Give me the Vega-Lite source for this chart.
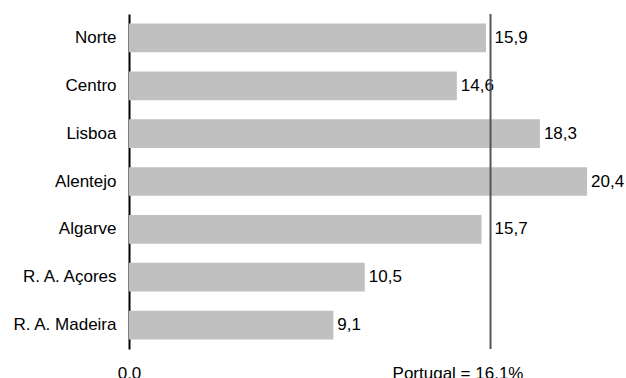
{
  "$schema": "https://vega.github.io/schema/vega-lite/v6.json",
  "width": 494,
  "height": 335,
  "autosize": {"type": "none"},
  "padding": {"left": 129, "top": 14, "right": 3, "bottom": 29},
  "background": "white",
  "config": {"view": {"stroke": null}, "font": "Liberation Sans"},
  "data": {
    "values": [
      {"regiao": "Norte", "valor": 15.9},
      {"regiao": "Centro", "valor": 14.6},
      {"regiao": "Lisboa", "valor": 18.3},
      {"regiao": "Alentejo", "valor": 20.4},
      {"regiao": "Algarve", "valor": 15.7},
      {"regiao": "R. A. Açores", "valor": 10.5},
      {"regiao": "R. A. Madeira", "valor": 9.1}
    ]
  },
  "layer": [
    {
      "mark": {"type": "bar", "color": "#c0c0c0"},
      "encoding": {
        "y": {
          "field": "regiao",
          "type": "nominal",
          "sort": null,
          "scale": {"paddingInner": 0.4, "paddingOuter": 0.2},
          "axis": {
            "title": null,
            "domain": true,
            "domainColor": "#000000",
            "domainWidth": 2,
            "ticks": false,
            "grid": false,
            "labelPadding": 13,
            "labelFontSize": 17,
            "labelColor": "#000000",
            "labelFont": "Liberation Sans"
          }
        },
        "x": {
          "field": "valor",
          "type": "quantitative",
          "scale": {"domain": [0, 22], "nice": false},
          "axis": {
            "title": null,
            "domain": false,
            "ticks": false,
            "grid": false,
            "values": [0, 16.1],
            "labelExpr": "datum.value == 0 ? '0,0' : 'Portugal = 16,1%'",
            "labelFontSize": 17,
            "labelColor": "#000000",
            "labelFont": "Liberation Sans",
            "labelPadding": 16,
            "labelFlush": false,
            "labelBound": false,
            "labelOverlap": false,
            "labelAlign": "center",
            "labelOffset": {"condition": {"test": "datum.value > 1", "value": -33}, "value": 0}
          }
        }
      }
    },
    {
      "transform": [
        {"calculate": "replace(format(datum.valor, '.1f'), '.', ',')", "as": "rotulo"},
        {"calculate": "datum.valor > 15.5 && datum.valor < 16.1 ? 16.1 : datum.valor", "as": "lx"}
      ],
      "mark": {"type": "text", "align": "left", "baseline": "middle", "dx": 4, "fontSize": 17, "color": "#000000", "font": "Liberation Sans"},
      "encoding": {
        "y": {"field": "regiao", "type": "nominal", "sort": null},
        "x": {"field": "lx", "type": "quantitative"},
        "text": {"field": "rotulo"}
      }
    },
    {
      "data": {"values": [{"referencia": "Portugal", "valor": 16.1}]},
      "mark": {"type": "rule", "color": "#555555", "strokeWidth": 2},
      "encoding": {
        "x": {"field": "valor", "type": "quantitative"}
      }
    }
  ]
}
